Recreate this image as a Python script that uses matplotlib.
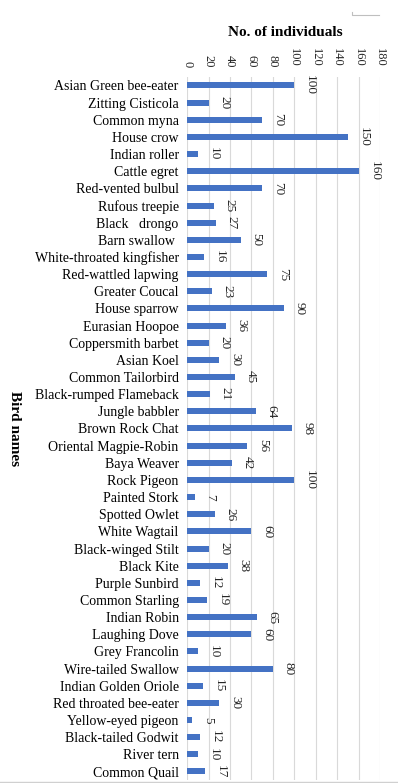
import matplotlib
matplotlib.use('Agg')
import matplotlib.pyplot as plt
from matplotlib.lines import Line2D

birds = ['Asian Green bee-eater', 'Zitting Cisticola', 'Common myna', 'House crow',
         'Indian roller', 'Cattle egret', 'Red-vented bulbul', 'Rufous treepie',
         'Black   drongo', 'Barn swallow ', 'White-throated kingfisher',
         'Red-wattled lapwing', 'Greater Coucal', 'House sparrow', 'Eurasian Hoopoe',
         'Coppersmith barbet', 'Asian Koel', 'Common Tailorbird',
         'Black-rumped Flameback', 'Jungle babbler', 'Brown Rock Chat',
         'Oriental Magpie-Robin', 'Baya Weaver', 'Rock Pigeon', 'Painted Stork',
         'Spotted Owlet', 'White Wagtail', 'Black-winged Stilt', 'Black Kite',
         'Purple Sunbird', 'Common Starling', 'Indian Robin', 'Laughing Dove',
         'Grey Francolin', 'Wire-tailed Swallow', 'Indian Golden Oriole',
         'Red throated bee-eater', 'Yellow-eyed pigeon', 'Black-tailed Godwit',
         'River tern', 'Common Quail']
counts = [100, 20, 70, 150, 10, 160, 70, 25, 27, 50, 16, 75, 23, 90, 36, 20, 30, 45,
          21, 64, 98, 56, 42, 100, 7, 26, 60, 20, 38, 12, 19, 65, 60, 10, 80, 15, 30,
          5, 12, 10, 17]
xticks = [0, 20, 40, 60, 80, 100, 120, 140, 160, 180]

plt.rcParams['font.family'] = ['Liberation Serif', 'DejaVu Serif']

fig = plt.figure(figsize=(3.98, 7.83), dpi=100)
ax = fig.add_axes([0.470, 0.0038, 0.485, 0.898])

ypos = list(range(len(birds)))
ax.barh(ypos, counts, height=0.35, color='#4472C4', zorder=3)
for y, v in zip(ypos, counts):
    ax.annotate(str(v), (v, y), xytext=(7, 0), textcoords='offset points',
                rotation=-90, ha='left', va='center', fontsize=9.5, color='#262626')

ax.set_ylim(len(birds) - 0.5, -0.5)
ax.set_xlim(0, 180)
ax.set_xticks(xticks)
ax.set_yticks(ypos)
ax.set_yticklabels(birds, fontsize=10)
ax.xaxis.tick_top()
ax.tick_params(axis='x', length=0, pad=7, labelsize=9, labelcolor='#262626',
               labelrotation=-90)
ax.tick_params(axis='y', length=0, pad=6, labelcolor='black')
ax.grid(axis='x', color='#D9D9D9', linewidth=0.8, zorder=0)
for s in ax.spines.values():
    s.set_visible(False)

fig.text(0.716, 0.958, 'No. of individuals', ha='center', va='center',
         fontsize=11, fontweight='bold')
fig.text(0.036, 0.453, 'Bird names', ha='center', va='center', rotation=-90,
         fontsize=11, fontweight='bold')

# frame corner and bottom edge
fig.add_artist(Line2D([0.884, 0.884, 0.952], [0.985, 0.981, 0.981],
                      color='#BFBFBF', linewidth=0.8))
fig.add_artist(Line2D([0, 1], [0.0015, 0.0015], color='#D0D0D0', linewidth=1))

fig.savefig('out.png', dpi=100)
